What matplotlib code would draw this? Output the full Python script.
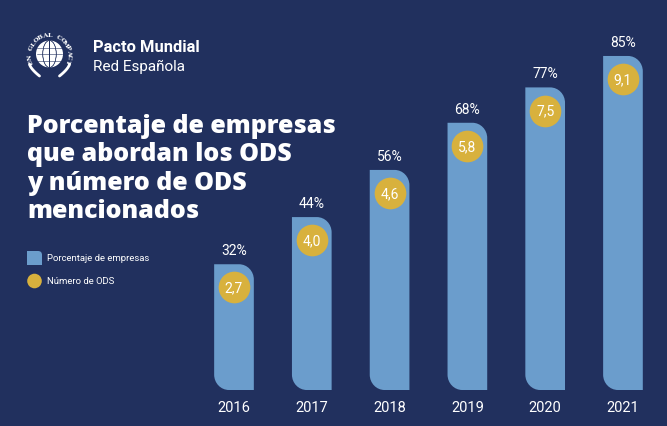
import numpy as np
import matplotlib
matplotlib.use("Agg")
import matplotlib.pyplot as plt
from matplotlib.path import Path
from matplotlib.patches import PathPatch, Circle, Ellipse

years = ['2016', '2017', '2018', '2019', '2020', '2021']
pct_empresas = [32, 44, 56, 68, 77, 85]
num_ods = ['2,7', '4,0', '4,6', '5,8', '7,5', '9,1']
title_lines = ['Porcentaje de empresas', 'que abordan los ODS', 'y número de ODS', 'mencionados']

bg = '#21305e'
bar_col = '#6b9dcc'
yel = '#d8b13d'
plt.rcParams['font.family'] = ['Roboto', 'DejaVu Sans']

fig = plt.figure(figsize=(6.67, 4.27), dpi=100, facecolor=bg)

# overlay in pixel coords for texts / logo
ov = fig.add_axes([0, 0, 1, 1])
ov.set_xlim(0, 667)
ov.set_ylim(427, 0)
ov.axis('off')

# bar axes
ax = fig.add_axes([0.2925, 0.0843, 0.6998, 0.8283])
ax.set_xlim(-0.5, 5.5)
ax.set_ylim(0, 90)
ax.axis('off')
ax.patch.set_alpha(0)

k = 0.5523
def bar_path(x, h, w=0.51, rx=0.19, ry=3.9, b=0.0):
    l, r = x - w/2, x + w/2
    v = [(l, h), (r - rx, h),
         (r - rx + k*rx, h), (r, h - ry + k*ry), (r, h - ry),
         (r, b), (l + rx, b),
         (l + rx - k*rx, b), (l, b + ry - k*ry), (l, b + ry),
         (l, h), (l, h)]
    c = [Path.MOVETO, Path.LINETO,
         Path.CURVE4, Path.CURVE4, Path.CURVE4,
         Path.LINETO, Path.LINETO,
         Path.CURVE4, Path.CURVE4, Path.CURVE4,
         Path.LINETO, Path.CLOSEPOLY]
    return Path(v, c)

for i, (yr, p, n) in enumerate(zip(years, pct_empresas, num_ods)):
    ax.add_patch(PathPatch(bar_path(i, p), facecolor=bar_col, edgecolor='none'))
    ax.scatter([i], [p - 5.9], s=520, color=yel, zorder=3, linewidths=0)
    ax.text(i, p - 5.9, n, color='white', fontsize=10, ha='center', va='center', zorder=4)
    ax.text(i, p + 3.6, f'{p}%', color='white', fontsize=10, ha='center', va='center')
    ax.text(i, -4.2, yr, color='white', fontsize=10.5, ha='center', va='center', clip_on=False)

# title, one text per line
for j, line in enumerate(title_lines):
    ov.text(27, 133 + 28.3*j, line, color='white', fontsize=18, fontweight='heavy',
            ha='left', va='baseline', family=['Open Sans', 'DejaVu Sans'])

# legend
ov.add_patch(PathPatch(Path([(27, 252), (38, 252), (42, 252), (42, 256), (42, 266), (27, 266), (27, 252)],
                            [Path.MOVETO, Path.LINETO, Path.CURVE3, Path.CURVE3, Path.LINETO,
                             Path.LINETO, Path.CLOSEPOLY]), facecolor=bar_col, edgecolor='none'))
ov.add_patch(Circle((34.5, 282), 7.3, facecolor=yel, edgecolor='none'))
ov.text(47, 259, 'Porcentaje de empresas', color='white', fontsize=6.8, va='center')
ov.text(47, 282, 'Número de ODS', color='white', fontsize=6.8, va='center')

# logo
cx, cy = 49.5, 55
ov.add_patch(Circle((cx, cy), 13.5, facecolor='white', edgecolor='none'))
for dx in (-6.5, 0, 6.5):
    ov.add_patch(Ellipse((cx, cy), 2*abs(dx) + 0.5 if dx else 0.1, 27, facecolor='none', edgecolor=bg, lw=0.4))
for dy in (-6.5, 0, 6.5):
    ov.plot([cx - 12.5, cx + 12.5], [cy + dy, cy + dy], color=bg, lw=0.4)
letters = 'UN GLOBAL COMPACT'
angs = np.linspace(200, -20, len(letters))
for ch, a in zip(letters, angs):
    t = np.deg2rad(a)
    ov.text(cx + 19.5*np.cos(t), cy - 19.5*np.sin(t), ch, color='white', fontsize=4.6,
            fontweight='bold', ha='center', va='center', rotation=a - 90, family='DejaVu Serif')
for s in (-1, 1):
    tt = np.linspace(0, 1, 20)
    xs = cx + s*(20 - 10*tt**1.5)
    ys = cy + 10 + 12*tt
    ov.plot(xs, ys, color='white', lw=2, solid_capstyle='round')
ov.text(93, 47, 'Pacto Mundial', color='white', fontsize=11.9, fontweight='bold', va='center')
ov.text(93, 67, 'Red Española', color='white', fontsize=11, va='center')

fig.savefig('out.png', dpi=100, facecolor=bg)
